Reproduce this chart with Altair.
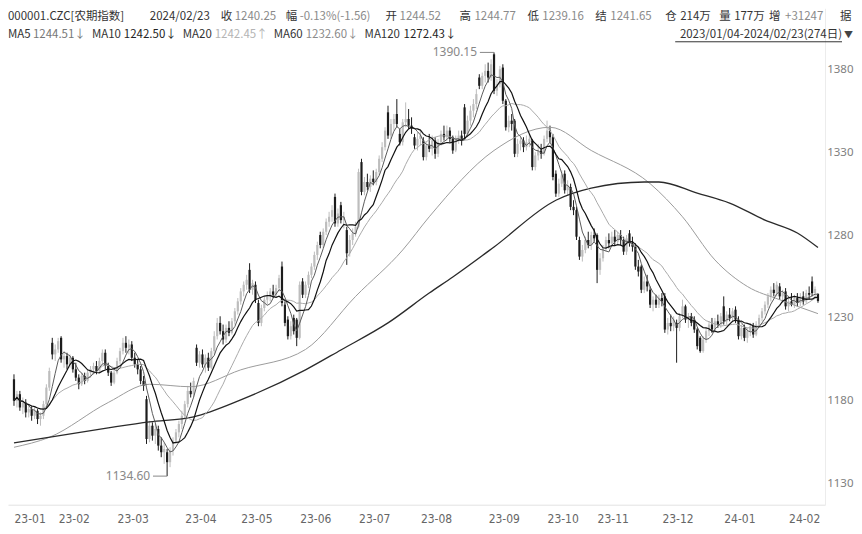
import json
import altair as alt
import pandas as pd

# ---------------- data ----------------
opens = [
    1193,1180,1184,1176,1179,1173,1175,1171,1174,1169,1171,1178,1188,1215,1208,
    1211,1218,1205,1207,1202,1206,1199,1194,1190,1195,1192,1197,1199,1201,1198,1204,1209,1201,1197,1191,
    1197,1204,1210,1215,1212,1214,1206,1202,1199,1192,1181,1157,1165,1159,1163,1153,1149,1149,1143,1150,1156,1161,1166,
    1171,1178,1186,1184,1212,1203,1208,1202,1206,1200,1210,1219,1227,1222,1217,1224,1221,1228,1234,
    1240,1246,1250,1259,1247,1250,1239,1227,1236,1241,1243,1246,1244,1248,1261,1238,1229,1219,1230,1229,
    1218,1252,1244,1250,1256,1261,1268,1280,1274,1282,1288,1291,1303,1287,1298,1289,1283,1269,1277,1281,
    1285,1324,1306,1312,1309,1314,1312,1318,1326,1333,1354,1340,1347,1353,1341,1336,1348,1350,1346,1339,1334,
    1338,1337,1327,1334,1332,1337,1329,1336,1341,1339,1343,1339,1331,1338,1340,1357,1341,1349,1355,1359,1375,1370,1376,
    1379,1375,1389,1367,1371,1381,1361,1345,1349,1349,1329,1335,1337,1333,1336,1337,1321,1328,1331,1329,
    1338,1343,1339,1317,1305,1311,1317,1307,1309,1297,1295,1277,1267,1271,1277,1274,1280,
    1280,1259,1266,1272,1277,1275,1279,1276,1280,1277,1270,1281,1275,1273,1261,1261,1247,1252,1247,1238,1241,1238,
    1242,1243,1223,1227,1225,1227,1224,1232,1237,1229,1231,1229,1223,1218,1210,1217,1222,1226,1223,1228,1226,
    1237,1228,1232,1230,1235,1229,1219,1224,1218,1222,1225,1220,1226,1230,1234,1238,1243,1247,1245,1249,1243,1246,
    1237,1240,1238,1242,1239,1243,1240,1245,1252,1245,1244.52,
]
highs = [
    1196,1186,1186,1182,1181,1178,1177,1176,1175,1173,1180,1190,1200,1218,1214,
    1218,1219,1210,1209,1208,1207,1203,1196,1197,1197,1199,1201,1203,1204,1206,1211,1211,1203,1198,1199,
    1206,1212,1218,1219,1217,1216,1209,1205,1201,1195,1183,1168,1167,1166,1165,1158,1155,1151,1152,1158,1163,1168,1174,
    1180,1189,1191,1194,1214,1210,1211,1208,1209,1212,1222,1230,1231,1226,1226,1228,1230,1236,1242,
    1248,1252,1256,1263,1253,1252,1241,1238,1243,1246,1248,1250,1250,1256,1264,1240,1231,1228,1232,1230,
    1252,1254,1252,1258,1263,1270,1276,1282,1284,1290,1294,1298,1305,1296,1300,1294,1285,1280,1284,1288,
    1320,1326,1315,1317,1316,1319,1320,1328,1336,1345,1358,1350,1353,1362,1344,1350,1360,1356,1351,1341,1342,
    1343,1339,1336,1341,1340,1339,1338,1343,1346,1346,1345,1340,1340,1343,1343,1359,1352,1358,1362,1368,1377,1378,1383,
    1384,1386,1390.15,1374,1382,1383,1362,1352,1353,1350,1338,1340,1339,1340,1341,1338,1330,1335,1335,1340,
    1349,1346,1341,1319,1314,1319,1319,1313,1311,1301,1297,1279,1274,1279,1282,1282,1284,
    1281,1269,1274,1279,1281,1282,1283,1282,1283,1279,1280,1283,1279,1275,1265,1262,1255,1256,1249,1243,1244,1244,
    1245,1245,1230,1232,1231,1229,1233,1241,1238,1233,1233,1231,1224,1219,1219,1224,1228,1230,1230,1232,1233,
    1243,1234,1236,1236,1237,1231,1226,1226,1224,1227,1227,1228,1232,1236,1240,1245,1249,1251,1252,1251,1247,1248,
    1243,1245,1244,1245,1245,1246,1247,1249,1255,1249,1244.77,
]
lows = [
    1177,1176,1174,1172,1170,1170,1168,1169,1166,1165,1169,1176,1186,1205,1204,
    1209,1203,1200,1199,1200,1197,1192,1187,1189,1190,1191,1194,1196,1196,1197,1202,1199,1195,1189,1190,
    1196,1202,1208,1209,1208,1204,1200,1196,1190,1186,1154,1155,1156,1154,1150,1146,1142,1134.6,1140,1147,1154,1158,1163,
    1169,1176,1182,1182,1201,1200,1200,1197,1198,1199,1208,1217,1220,1214,1215,1219,1220,1226,1232,
    1238,1243,1247,1245,1244,1239,1225,1225,1234,1238,1240,1242,1242,1246,1237,1225,1217,1217,1220,1213,
    1217,1242,1242,1248,1254,1259,1265,1272,1272,1280,1285,1288,1285,1285,1287,1284,1262,1267,1274,1279,
    1284,1304,1304,1307,1306,1310,1310,1316,1324,1331,1338,1338,1343,1345,1334,1334,1345,1344,1341,1332,1331,
    1334,1325,1325,1330,1328,1326,1327,1334,1337,1337,1336,1329,1330,1335,1334,1338,1339,1346,1351,1356,1368,1368,1372,
    1372,1373,1365,1364,1369,1359,1343,1342,1343,1327,1327,1331,1330,1331,1333,1319,1319,1325,1326,1328,
    1336,1336,1313,1303,1303,1309,1305,1304,1295,1292,1277,1265,1264,1269,1272,1271,1276,
    1251,1256,1264,1270,1272,1273,1274,1274,1274,1268,1268,1273,1270,1259,1255,1245,1245,1246,1236,1234,1236,1236,
    1237,1221,1220,1222,1222,1203,1222,1230,1227,1224,1225,1221,1211,1209,1209,1215,1219,1221,1221,1224,1224,
    1226,1226,1228,1228,1227,1217,1217,1216,1215,1219,1218,1219,1224,1228,1232,1236,1240,1243,1243,1241,1239,1235,
    1234,1237,1236,1237,1237,1238,1239,1241,1243,1242,1239.16,
]
closes = [
    1180,1184,1176,1179,1173,1175,1171,1174,1169,1171,1178,1188,1198,1208,1211,
    1216,1205,1207,1202,1206,1199,1194,1190,1195,1192,1197,1199,1201,1198,1204,1209,1201,1197,1191,1197,
    1204,1210,1215,1212,1214,1206,1202,1199,1192,1189,1157,1165,1159,1163,1153,1149,1151,1143,1150,1156,1161,1166,1171,
    1178,1186,1184,1192,1203,1208,1202,1206,1200,1210,1219,1227,1222,1217,1224,1221,1228,1234,1240,
    1246,1250,1253,1247,1251,1241,1227,1236,1241,1243,1246,1244,1248,1254,1239,1227,1219,1225,1222,1218,
    1250,1244,1250,1256,1261,1268,1274,1274,1282,1288,1291,1295,1287,1293,1289,1291,1269,1277,1281,1285,
    1318,1306,1312,1309,1314,1312,1318,1326,1333,1343,1340,1347,1350,1347,1336,1348,1350,1346,1344,1334,1338,
    1340,1327,1334,1332,1337,1329,1336,1341,1339,1343,1338,1331,1338,1340,1337,1341,1349,1355,1359,1365,1370,1376,1379,
    1375,1383,1367,1371,1380,1361,1345,1349,1347,1329,1335,1337,1333,1336,1338,1321,1328,1331,1329,1338,
    1343,1339,1315,1305,1311,1316,1307,1310,1297,1295,1279,1267,1271,1277,1274,1280,1278,
    1259,1266,1272,1277,1275,1279,1276,1280,1277,1270,1278,1275,1273,1261,1258,1247,1252,1249,1238,1241,1238,1242,
    1240,1223,1227,1225,1229,1224,1231,1237,1229,1231,1227,1223,1213,1210,1217,1222,1226,1223,1228,1226,1231,
    1228,1232,1230,1234,1229,1219,1224,1218,1222,1225,1220,1226,1230,1234,1238,1243,1247,1245,1250,1243,1245,1237,
    1240,1238,1242,1239,1243,1240,1245,1244,1245,1247.5,1240.25,
]

# long moving averages (need history before the window)
ma60_idx = [0, 12, 32, 46, 60, 77, 99, 116, 132, 141, 163, 182, 196, 216, 227, 238, 249, 260, 273]
ma60_val = [1152, 1158, 1179, 1190, 1188.5, 1198.7, 1211, 1243, 1271, 1291, 1331, 1345, 1331, 1311, 1291, 1265, 1249, 1241, 1232.6]
ma120_idx = [0, 32, 46, 61, 77, 99, 111, 127, 141, 149, 163, 184, 196, 214, 219, 232, 243, 255, 266, 273]
ma120_val = [1154.7, 1163.7, 1167.3, 1170.4, 1180.6, 1198.7, 1210.7, 1227, 1245, 1254.7, 1272.8, 1301, 1308.3, 1312, 1312, 1305.3, 1299.3, 1289, 1281.2, 1272.43]

month_idx = [0, 15, 35, 58, 77, 97, 117, 138, 161, 181, 198, 220, 241, 263]
month_labels = ["23-01", "23-02", "23-03", "23-04", "23-05", "23-06", "23-07",
                "23-08", "23-09", "23-10", "23-11", "23-12", "24-01", "24-02"]
y_ticks = [1130, 1180, 1230, 1280, 1330, 1380]

ann_idx = [163, 52]
ann_val = [1390.15, 1134.60]
ann_text = ["1390.15", "1134.60"]

header1_text = ["000001.CZC[农期指数]", "2024/02/23", "收", "1240.25", "幅", "-0.13%(-1.56)",
                "开", "1244.52", "高", "1244.77", "低", "1239.16", "结", "1241.65",
                "仓", "214万", "量", "177万", "增", "+31247", "据"]
header2_text = ["MA5", "1244.51↓", "MA10", "1242.50↓", "MA20", "1242.45↑",
                "MA60", "1232.60↓", "MA120", "1272.43↓"]
range_text = "2023/01/04-2024/02/23(274日)"

# ---------------- layout / style ----------------
DARK, GRAY, LIGHT = "#333333", "#8a8a8a", "#b4b4b4"
header1_x = [3, 150, 221, 235, 286, 300, 386, 400, 460, 475, 528, 543, 596, 611,
             666, 681, 720, 735, 770, 786, 841]
header1_col = [DARK, DARK, DARK, GRAY, DARK, GRAY, DARK, GRAY, DARK, GRAY, DARK, GRAY, DARK, GRAY,
               DARK, DARK, DARK, DARK, DARK, GRAY, DARK]
header2_x = [8, 33, 92, 124, 183, 215, 274, 306, 365, 404]
header2_col = [DARK, "#777777", DARK, "#222222", DARK, LIGHT, DARK, GRAY, DARK, "#222222"]
LINE1_Y, LINE2_Y = 9, 26.5   # chart pixels (page y = value + 8)
HFS = 11.5                   # header font size

CJK = "Noto Sans CJK SC"
NARROW = "'Liberation Sans Narrow', 'DejaVu Sans Condensed', sans-serif"
W, H = 818, 497          # plot area; whole canvas is kept at 846 px wide
OFF = 8                  # page margin

df = pd.DataFrame({"i": list(range(len(closes))), "open": opens, "high": highs,
                   "low": lows, "close": closes})
df["dir"] = ["up" if c >= o else "down" for o, c in zip(opens, closes)]

xscale = alt.Scale(domain=[-0.335, 273.7], nice=False, zero=False)
yscale = alt.Scale(domain=[1117.35, 1416.75], nice=False, zero=False)

label_expr = f"{json.dumps(month_labels)}[indexof({json.dumps(month_idx)}, datum.value)]"
xaxis = alt.Axis(values=month_idx, labelExpr=label_expr, title=None, grid=False, ticks=False,
                 domainColor="#e2e2e2", labelAlign="left", labelColor="#666666", labelFont=NARROW,
                 labelFontSize=12, labelPadding=9, labelOverlap=False, labelFlush=False, orient="bottom")
yaxis = alt.Axis(values=y_ticks, orient="right", title=None, grid=False, ticks=False, format="d",
                 domainColor="#ececec", labelColor="#808080", labelFont="Noto Sans",
                 labelFontSize=11.5, labelPadding=28, labelAlign="right")


def X(f):
    return alt.X(f"{f}:Q", scale=xscale, axis=xaxis)


def Y(f):
    return alt.Y(f"{f}:Q", scale=yscale, axis=yaxis)


color = alt.Color("dir:N", scale=alt.Scale(domain=["up", "down"], range=["#bdbdbd", "#1c1c1c"]), legend=None)

base = alt.Chart(df)
wicks = base.mark_rule(strokeWidth=1).encode(x=X("i"), y=Y("low"), y2=alt.Y2("high:Q"), color=color)
bodies = base.mark_bar(width=2.2).encode(x=X("i"), y=Y("open"), y2=alt.Y2("close:Q"), color=color)


def ma_line(n, col, sw):
    return base.transform_window(
        ma="mean(close)", frame=[-(n - 1), 0], sort=[alt.SortField("i")]
    ).mark_line(color=col, strokeWidth=sw).encode(x=X("i"), y=Y("ma"))


ma5 = ma_line(5, "#5a5a5a", 1)
ma10 = ma_line(10, "#111111", 1.2)
ma20 = ma_line(20, "#aaaaaa", 1)

ma60 = alt.Chart(pd.DataFrame({"i": ma60_idx, "v": ma60_val})).mark_line(
    color="#9c9c9c", strokeWidth=1, interpolate="monotone").encode(x=X("i"), y=Y("v"))
ma120 = alt.Chart(pd.DataFrame({"i": ma120_idx, "v": ma120_val})).mark_line(
    color="#2a2a2a", strokeWidth=1.3, interpolate="monotone").encode(x=X("i"), y=Y("v"))

ann_df = pd.DataFrame({"i": ann_idx, "v": ann_val, "t": ann_text})
ann_text_layer = alt.Chart(ann_df).mark_text(align="right", baseline="middle", dx=-17, fontSize=12,
                                             font="Noto Sans", color="#888888").encode(
    x=X("i"), y=Y("v"), text="t:N")
ann_rule = alt.Chart(ann_df).transform_calculate(i0="datum.i - 4.8").mark_rule(
    color="#888888", strokeWidth=1).encode(x=X("i0"), x2=alt.X2("i:Q"), y=Y("v"))

layers = [wicks, bodies, ma60, ma120, ma20, ma5, ma10, ann_rule, ann_text_layer]


def header_text(txt, px, py, col, size=HFS):
    return alt.Chart(pd.DataFrame({"t": [txt]})).mark_text(
        align="left", baseline="middle", font=CJK, fontSize=size, color=col).encode(
        text="t:N", x=alt.value(max(px - OFF, 0)), y=alt.value(py))


for t, px, c in zip(header1_text, header1_x, header1_col):
    layers.append(header_text(t, px, LINE1_Y, c))
for t, px, c in zip(header2_text, header2_x, header2_col):
    layers.append(header_text(t, px, LINE2_Y, c))

layers.append(alt.Chart(pd.DataFrame({"t": [range_text]})).mark_text(
    align="right", baseline="middle", font=CJK, fontSize=HFS, color=DARK).encode(
    text="t:N", x=alt.value(843 - OFF), y=alt.value(LINE2_Y)))
layers.append(alt.Chart(pd.DataFrame({"t": [0]})).mark_rule(color=DARK, strokeWidth=1).encode(
    x=alt.value(676 - OFF), x2=alt.value(843 - OFF), y=alt.value(LINE2_Y + 7)))
layers.append(alt.Chart(pd.DataFrame({"t": ["▼"]})).mark_text(
    align="left", baseline="middle", font=CJK, fontSize=9, color="#444444").encode(
    text="t:N", x=alt.value(845 - OFF), y=alt.value(LINE2_Y)))

chart = alt.layer(*layers).properties(width=W, height=H, padding=0, background="white").configure_view(stroke=None)

chart.save("out.html", embed_options={"renderer": "svg", "actions": False})
